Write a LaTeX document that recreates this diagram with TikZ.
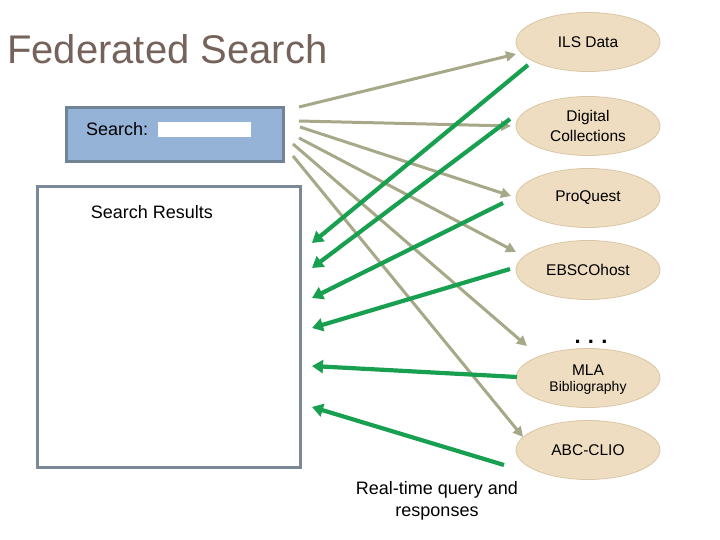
\documentclass[tikz,border=0pt]{standalone}
\usepackage{fontspec}
\setmainfont{Liberation Sans}
\usetikzlibrary{shapes.geometric,arrows.meta}
\definecolor{titlec}{RGB}{117,98,90}
\definecolor{qline}{RGB}{166,168,136}
\definecolor{rline}{RGB}{24,160,80}
\definecolor{dbfill}{RGB}{238,221,192}
\definecolor{dbdraw}{RGB}{218,198,164}
\definecolor{sbfill}{RGB}{149,179,215}
\definecolor{sbdraw}{RGB}{112,132,150}
\definecolor{rbdraw}{RGB}{122,136,152}
\tikzset{
  db/.style={ellipse,fill=dbfill,draw=dbdraw,line width=0.8pt,minimum width=144pt,minimum height=59pt,inner sep=0pt,align=center,font=\fontsize{15.5}{20}\selectfont},
  query/.style={draw=qline,line width=3pt,-{Triangle[length=10pt,width=10pt]}},
  resp/.style={draw=rline,line width=4.2pt,-{Triangle[length=11pt,width=13pt]}},
  lbl/.style={inner sep=0pt,font=\fontsize{18}{22}\selectfont}
}
\begin{document}
\begin{tikzpicture}[x=1pt,y=-1pt]
\useasboundingbox (0,0) rectangle (720,540);
\node[anchor=west,inner sep=0pt,text=titlec,font=\fontsize{40}{44}\selectfont] (title) at (7,49) {Federated Search};
% search box
\draw[fill=sbfill,draw=sbdraw,line width=3pt] (66,108) rectangle (283,162);
\node[lbl,anchor=west] (searchlbl) at (86,129) {Search:};
\fill[white] (158,122) rectangle (251,137);
\coordinate (field) at (204,129);
% results box
\draw[draw=rbdraw,line width=3pt,fill=white] (37,187) rectangle (300,467);
\node[lbl] (results) at (152,212) {Search Results};
% databases
\node[db] (ils) at (588,42) {ILS Data};
\node[db] (dig) at (588,126) {Digital\\Collections};
\node[db] (pq) at (588,198) {ProQuest};
\node[db] (ebsco) at (588,270) {EBSCOhost};
\node[inner sep=0pt,font=\bfseries\fontsize{22}{24}\selectfont] (dots) at (591,342) {.\,\,.\,\,.};
\node[db] (mla) at (588,378) {};
\node[inner sep=0pt,font=\fontsize{15.5}{20}\selectfont] (mlat) at (588,370) {MLA};
\node[inner sep=0pt,font=\fontsize{14}{16}\selectfont] (mlab) at (588,388) {Bibliography};
\node[db] (abc) at (588,450) {ABC-CLIO};
% query start points
\coordinate (q1) at (299,107);
\coordinate (q2) at (299,121);
\coordinate (q3) at (300,127);
\coordinate (q4) at (299,138);
\coordinate (q5) at (293,144);
\coordinate (q6) at (293,156);
% query end points
\coordinate (e1) at (516,54);
\coordinate (e2) at (511,126);
\coordinate (e3) at (511,196);
\coordinate (e4) at (516,252);
\coordinate (e5) at (527,346);
\coordinate (e6) at (523,437);
\draw[query] (q1) -- (e1);
\draw[query] (q2) -- (e2);
\draw[query] (q3) -- (e3);
\draw[query] (q4) -- (e4);
\draw[query] (q5) -- (e5);
\draw[query] (q6) -- (e6);
% responses
\coordinate (r1) at (528,65);
\coordinate (r2) at (510,119);
\coordinate (r3) at (503,203);
\coordinate (r4) at (510,269);
\coordinate (r5) at (517,377);
\coordinate (r6) at (504,465);
\coordinate (t1) at (312,243);
\coordinate (t2) at (312,268);
\coordinate (t3) at (312,298);
\coordinate (t4) at (312,328);
\coordinate (t5) at (312,366);
\coordinate (t6) at (312,407);
\draw[resp] (r1) -- (t1);
\draw[resp] (r2) -- (t2);
\draw[resp] (r3) -- (t3);
\draw[resp] (r4) -- (t4);
\draw[resp] (r5) -- (t5);
\draw[resp] (r6) -- (t6);
\node[lbl,align=center] (rt) at (437,501) {Real-time query and\\responses};
\end{tikzpicture}
\end{document}
